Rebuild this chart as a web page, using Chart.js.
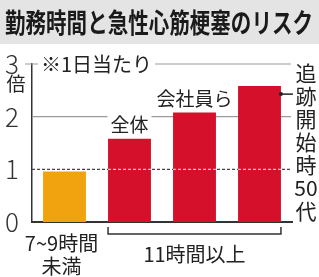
<!DOCTYPE html>
<html>
<head>
<meta charset="utf-8">
<script src="https://cdn.jsdelivr.net/npm/chart.js@4/dist/chart.umd.min.js"></script>
<style>
  html, body { margin: 0; padding: 0; background: #fff; }
  canvas { display: block; }
</style>
</head>
<body>
<canvas id="myChart" width="319" height="277"></canvas>
<script>
const title = '勤務時間と急性心筋梗塞のリスク';
const categories = ['7~9時間未満', '全体', '会社員ら', '追跡開始時50代'];
const riskValues = [0.96, 1.58, 2.08, 2.58];
const barColors = ['#F0A30F', '#D5102B', '#D5102B', '#D5102B'];
const yTicks = [0, 1, 2, 3];
const groupLabels = [['7~9時間', '未満'], ['11時間以上']];
const unitLabel = '倍';
const noteLabel = '※1日当たり';

const font = '"Noto Sans CJK JP", "Noto Sans", sans-serif';

function textBox(ctx, text, x, y, align) {
    const w = ctx.measureText(text).width;
    let left = x - w / 2;
    if (align === 'right') left = x - w;
    if (align === 'left') left = x;
    ctx.fillStyle = '#fff';
    ctx.fillRect(left - 3, y - 9, w + 6, 18);
    ctx.fillStyle = '#222';
    ctx.textAlign = align;
    ctx.fillText(text, x, y);
}

const decor = {
    id: 'decor',
    beforeDatasetsDraw(chart) {
        const { ctx, chartArea, scales } = chart;
        const y = scales.y;
        ctx.save();
        // grid lines at 3 and 2
        ctx.strokeStyle = '#9a9a9a';
        ctx.lineWidth = 1.2;
        ctx.beginPath();
        ctx.moveTo(chartArea.left - 7, y.getPixelForValue(3));
        ctx.lineTo(chartArea.right - 1, y.getPixelForValue(3));
        ctx.moveTo(chartArea.left, y.getPixelForValue(2));
        ctx.lineTo(chartArea.right - 1, y.getPixelForValue(2));
        ctx.stroke();
        // dashed line at 1
        ctx.strokeStyle = '#444';
        ctx.setLineDash([3, 2]);
        ctx.beginPath();
        ctx.moveTo(chartArea.left, y.getPixelForValue(1));
        ctx.lineTo(chartArea.right, y.getPixelForValue(1));
        ctx.stroke();
        ctx.restore();
    },
    afterDatasetsDraw(chart) {
        const { ctx, chartArea, scales } = chart;
        const y = scales.y;
        const bars = chart.getDatasetMeta(0).data;
        ctx.save();

        // light dashes where the 1x line crosses the bars
        ctx.strokeStyle = 'rgba(255,220,220,0.85)';
        ctx.lineWidth = 1.2;
        ctx.setLineDash([3, 2]);
        for (let i = 1; i < bars.length; i++) {
            const b = bars[i];
            ctx.beginPath();
            ctx.moveTo(b.x - b.width / 2, y.getPixelForValue(1));
            ctx.lineTo(b.x + b.width / 2, y.getPixelForValue(1));
            ctx.stroke();
        }
        ctx.setLineDash([]);

        ctx.textBaseline = 'middle';
        ctx.font = '20px ' + font;
        // note
        textBox(ctx, noteLabel, chartArea.left + 9, y.getPixelForValue(3), 'left');

        // bar labels
        ctx.font = '19px ' + font;
        textBox(ctx, categories[1], bars[1].x, bars[1].y - 14, 'center');
        textBox(ctx, categories[2], bars[2].x, bars[2].y - 14, 'center');

        // leader from bar 3 to vertical label
        const b3 = bars[3];
        ctx.strokeStyle = '#222';
        ctx.fillStyle = '#222';
        ctx.lineWidth = 1.5;
        ctx.beginPath();
        ctx.moveTo(b3.x + b3.width / 2, b3.y + 8);
        ctx.lineTo(b3.x + b3.width / 2 + 12, b3.y + 8);
        ctx.stroke();
        ctx.beginPath();
        ctx.arc(b3.x + b3.width / 2, b3.y + 8, 2, 0, Math.PI * 2);
        ctx.fill();

        // vertical text for 3rd red bar
        const vchars = ['追', '跡', '開', '始', '時', '50', '代'];
        ctx.font = '21px ' + font;
        ctx.textAlign = 'center';
        ctx.fillStyle = '#222';
        const top = y.getPixelForValue(3) - 3;
        const step = (y.getPixelForValue(0) + 1 - top) / vchars.length;
        vchars.forEach((c, i) => {
            ctx.fillText(c, 306, top + step * (i + 0.5));
        });

        // unit
        ctx.font = '19px ' + font;
        ctx.fillText(unitLabel, 16, y.getPixelForValue(3) + 20);

        // category labels below
        const base = y.getPixelForValue(0);
        ctx.font = '20px ' + font;
        ctx.fillText(groupLabels[0][0], bars[0].x - 3, base + 21);
        ctx.fillText(groupLabels[0][1], bars[0].x - 3, base + 44);

        // bracket under red bars
        const l = bars[1].x - bars[1].width / 2;
        const r = bars[3].x + bars[3].width / 2;
        ctx.strokeStyle = '#333';
        ctx.lineWidth = 1.5;
        ctx.beginPath();
        ctx.moveTo(l, base + 5);
        ctx.lineTo(l, base + 12);
        ctx.lineTo(r, base + 12);
        ctx.lineTo(r, base + 5);
        ctx.stroke();
        ctx.fillText(groupLabels[1][0], (l + r) / 2, base + 32);

        // title band
        ctx.fillStyle = '#e4e4e4';
        ctx.fillRect(0, 0, chart.width, 44);
        ctx.fillStyle = '#1a1a1a';
        ctx.font = 'bold 27px ' + font;
        ctx.textAlign = 'left';
        const tw = ctx.measureText(title).width;
        ctx.translate(5, 23);
        ctx.scale(308 / tw, 1);
        ctx.fillText(title, 0, 0);
        ctx.restore();
    }
};

const myChart = new Chart(document.getElementById('myChart'), {
    type: 'bar',
    data: {
        labels: categories,
        datasets: [{
            data: riskValues,
            backgroundColor: barColors,
            barPercentage: 0.66,
            categoryPercentage: 1
        }]
    },
    options: {
        responsive: false,
        animation: false,
        layout: { padding: { top: 64, right: 27, left: 0, bottom: 0 } },
        plugins: { legend: { display: false }, tooltip: { enabled: false } },
        scales: {
            x: {
                grid: { display: false },
                border: { color: '#333', width: 2 },
                ticks: { display: false },
                afterFit(s) { s.height = 55; }
            },
            y: {
                min: 0,
                max: 3,
                afterBuildTicks(s) { s.ticks = yTicks.map(v => ({ value: v })); },
                ticks: { font: { size: 26, family: font, weight: 300 }, color: '#333', padding: 5 },
                grid: { display: false },
                border: { color: '#333', width: 1.5 },
                afterFit(s) { s.width = 32; }
            }
        }
    },
    plugins: [decor]
});
</script>
</body>
</html>
